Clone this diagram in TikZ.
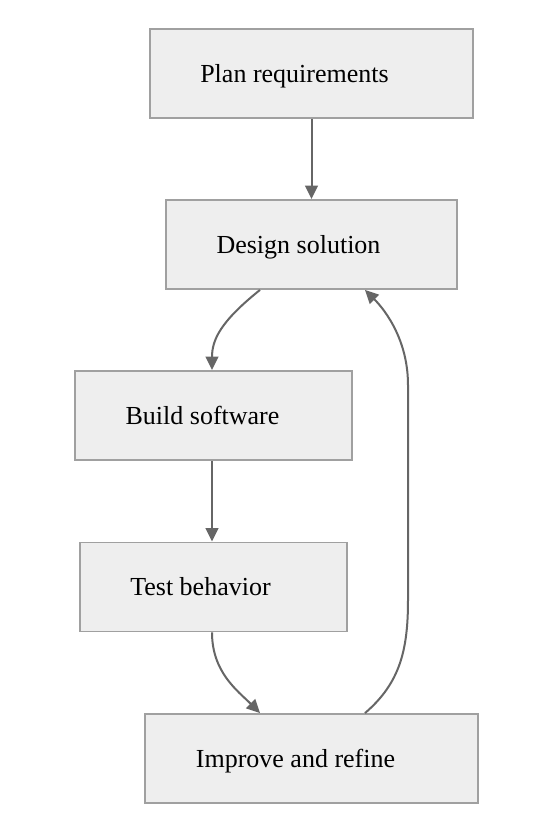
\documentclass[tikz,border=0pt]{standalone}
\usepackage{fontspec}
\setmainfont{Liberation Serif}
\usetikzlibrary{arrows.meta,calc}
\begin{document}
\begin{tikzpicture}[x=0.75pt,y=-0.75pt,
  box/.style={draw=boxline,fill=boxfill,line width=1.4pt,minimum width=#1,minimum height=66.75pt,inner sep=0pt},
  lbl/.style={font=\fontsize{19.5pt}{23pt}\selectfont,text=black,anchor=base},
  conn/.style={draw=edgecol,line width=1.5pt,-{Triangle[length=10pt,width=9.5pt]}}]
\definecolor{boxfill}{HTML}{EEEEEE}
\definecolor{boxline}{HTML}{A0A0A0}
\definecolor{edgecol}{HTML}{666666}
\useasboundingbox[fill=white] (0,0) rectangle (554,832);
\node[box=242.25pt] (plan) at (311.5,73.5) {};
\node[lbl] (planT) at (294.5,82) {Plan requirements};
\node[box=218.25pt] (design) at (311.5,244.5) {};
\node[lbl] (designT) at (298.5,253) {Design solution};
\node[box=207.75pt] (build) at (213.5,415.5) {};
\node[lbl] (buildT) at (202.5,424) {Build software};
\node[box=200.25pt] (test) at (213.5,587) {};
\node[lbl] (testT) at (200.5,595.5) {Test behavior};
\node[box=249.75pt] (improve) at (311.5,758.5) {};
\node[lbl] (improveT) at (295.5,767) {Improve and refine};
\draw[conn] (plan.south) -- (design.north);
\draw[conn] ($(design.south)+(-51.5,0)$) .. controls +(-40,32) and +(0,-30) .. ($(build.north)+(-1.5,0)$);
\draw[conn] ($(build.south)+(-1.5,0)$) -- ($(test.north)+(-1.5,0)$);
\draw[conn] ($(test.south)+(-1.5,0)$) .. controls +(0,40) and +(-22,-22) .. ($(improve.north)+(-51.5,0)$);
\draw[conn] ($(improve.north)+(53.5,0)$) .. controls +(35,-30) and +(0,50) .. (408,600) -- (408,385) .. controls +(0,-50) and +(15,15) .. ($(design.south)+(53.5,0)$);
\end{tikzpicture}
\end{document}
